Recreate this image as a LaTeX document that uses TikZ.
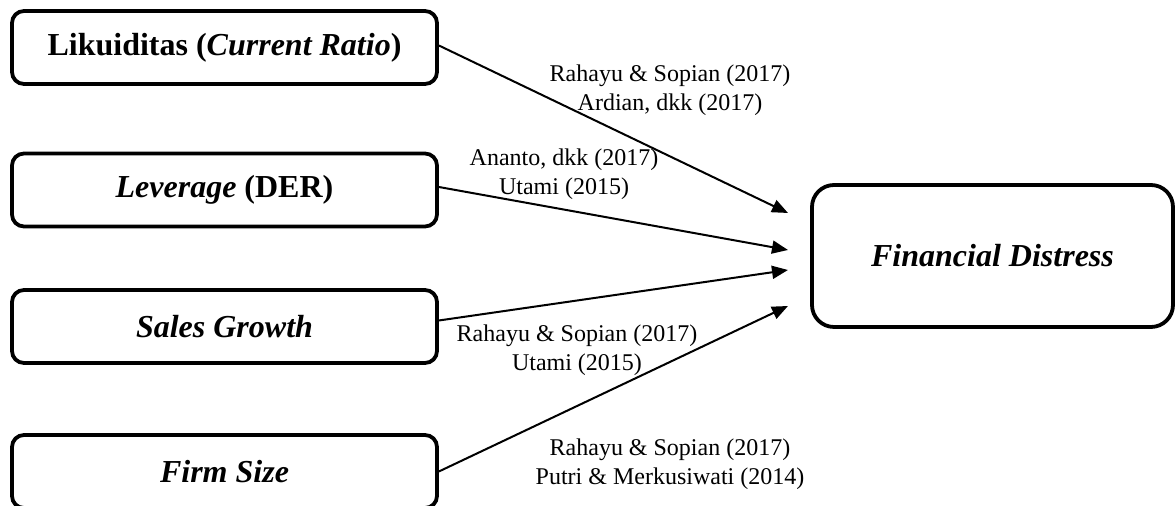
\documentclass[tikz,border=0pt]{standalone}
\usepackage{fontspec}
\setmainfont{Liberation Serif}
\usetikzlibrary{arrows.meta}
\begin{document}
\begin{tikzpicture}[x=0.5pt,y=-0.5pt,
  varbox/.style={draw=black, line width=1.9pt, rounded corners=6pt, minimum width=212.5pt, minimum height=36.5pt, inner sep=0pt, font=\fontsize{16}{19}\selectfont\bfseries},
  fdbox/.style={draw=black, line width=1.9pt, rounded corners=11pt, minimum width=180.5pt, minimum height=71pt, inner sep=0pt, font=\fontsize{16}{19}\selectfont\bfseries},
  ref/.style={align=center, inner sep=0pt, font=\fontsize{12}{14.5}\selectfont},
  link/.style={line width=1pt, -{Triangle[length=8pt,width=6.5pt]}}
]
\useasboundingbox (0,0) rectangle (1175,506);
\node[varbox] (b1) at (224.5,47.5) {Likuiditas (\textit{Current Ratio})};
\node[varbox] (b2) at (224.5,190) {\textit{Leverage} (DER)};
\node[varbox] (b3) at (224.5,326.5) {\textit{Sales Growth}};
\node[varbox] (b4) at (224.5,471.5) {\textit{Firm Size}};
\node[fdbox] (fd) at (992.5,256) {\textit{Financial Distress}};
\coordinate (t1) at (788,213);
\coordinate (t2) at (788,250);
\coordinate (t3) at (788,270);
\coordinate (t4) at (788,306);
\draw[link] ([yshift=1pt]b1.east) -- (t1);
\draw[link] ([yshift=1.5pt]b2.east) -- (t2);
\draw[link] ([yshift=3pt]b3.east) -- (t3);
\draw[link] ([yshift=0pt]b4.east) -- (t4);
\node[ref] (r1) at (670,90) {Rahayu \& Sopian (2017)\\Ardian, dkk (2017)};
\node[ref] (r2) at (564,174) {Ananto, dkk (2017)\\Utami (2015)};
\node[ref] (r3) at (577,350) {Rahayu \& Sopian (2017)\\Utami (2015)};
\node[ref] (r4) at (670,464.5) {Rahayu \& Sopian (2017)\\Putri \& Merkusiwati (2014)};
\end{tikzpicture}
\end{document}
